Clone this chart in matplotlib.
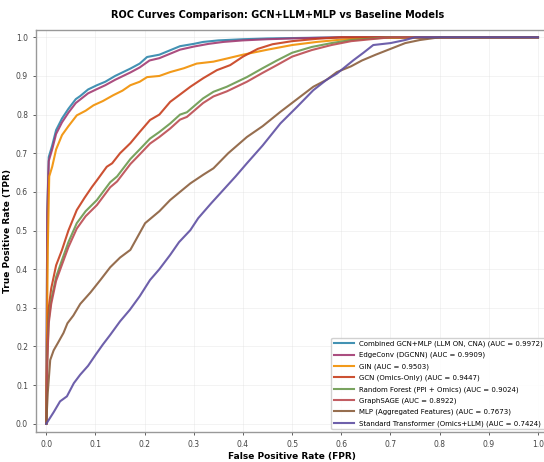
import matplotlib
matplotlib.use('Agg')
import matplotlib.pyplot as plt

# ROC points per model (FPR, TPR)
combined_fpr = [0, 0.002, 0.005, 0.012, 0.02, 0.032, 0.045, 0.06, 0.069, 0.085, 0.103, 0.12, 0.14, 0.171, 0.19, 0.205, 0.23, 0.272, 0.3, 0.319, 0.35, 0.4, 0.45, 0.5, 0.6, 1.0]
combined_tpr = [0, 0.55, 0.69, 0.72, 0.76, 0.79, 0.815, 0.84, 0.848, 0.865, 0.876, 0.885, 0.9, 0.919, 0.932, 0.949, 0.955, 0.977, 0.983, 0.988, 0.992, 0.995, 0.997, 0.998, 1.0, 1.0]

edgeconv_fpr = [0, 0.002, 0.005, 0.012, 0.02, 0.032, 0.045, 0.06, 0.07, 0.085, 0.103, 0.12, 0.14, 0.171, 0.19, 0.21, 0.23, 0.272, 0.3, 0.33, 0.36, 0.4, 0.45, 0.5, 0.6, 1.0]
edgeconv_tpr = [0, 0.54, 0.68, 0.71, 0.75, 0.78, 0.805, 0.83, 0.84, 0.855, 0.866, 0.876, 0.89, 0.909, 0.922, 0.94, 0.946, 0.968, 0.976, 0.983, 0.988, 0.992, 0.995, 0.997, 1.0, 1.0]

gin_fpr = [0, 0.003, 0.006, 0.012, 0.02, 0.032, 0.045, 0.062, 0.08, 0.096, 0.115, 0.136, 0.155, 0.171, 0.19, 0.205, 0.23, 0.252, 0.28, 0.306, 0.34, 0.367, 0.4, 0.45, 0.5, 0.55, 0.6, 0.65, 1.0]
gin_tpr = [0, 0.45, 0.64, 0.665, 0.71, 0.747, 0.77, 0.798, 0.81, 0.824, 0.835, 0.85, 0.862, 0.876, 0.885, 0.897, 0.9, 0.91, 0.92, 0.932, 0.937, 0.945, 0.955, 0.968, 0.98, 0.988, 0.994, 0.998, 1.0]

gcn_fpr = [0, 0.002, 0.005, 0.01, 0.02, 0.032, 0.045, 0.062, 0.078, 0.093, 0.103, 0.123, 0.134, 0.15, 0.171, 0.19, 0.211, 0.23, 0.252, 0.27, 0.293, 0.319, 0.347, 0.374, 0.4, 0.43, 0.46, 0.5, 0.55, 0.6, 1.0]
gcn_tpr = [0, 0.2, 0.3, 0.35, 0.41, 0.45, 0.5, 0.553, 0.585, 0.613, 0.63, 0.665, 0.674, 0.7, 0.726, 0.755, 0.786, 0.8, 0.833, 0.85, 0.872, 0.894, 0.915, 0.928, 0.95, 0.97, 0.982, 0.99, 0.996, 1.0, 1.0]

rf_fpr = [0, 0.002, 0.005, 0.01, 0.02, 0.032, 0.045, 0.062, 0.08, 0.103, 0.13, 0.144, 0.171, 0.19, 0.211, 0.23, 0.252, 0.272, 0.286, 0.319, 0.34, 0.367, 0.408, 0.44, 0.469, 0.5, 0.54, 0.58, 0.62, 0.7, 1.0]
rf_tpr = [0, 0.17, 0.27, 0.32, 0.38, 0.424, 0.47, 0.519, 0.55, 0.579, 0.625, 0.64, 0.685, 0.71, 0.738, 0.755, 0.777, 0.8, 0.806, 0.842, 0.859, 0.872, 0.897, 0.92, 0.94, 0.96, 0.975, 0.985, 0.993, 1.0, 1.0]

sage_fpr = [0, 0.002, 0.005, 0.01, 0.02, 0.032, 0.045, 0.062, 0.08, 0.103, 0.13, 0.144, 0.171, 0.19, 0.211, 0.23, 0.252, 0.272, 0.286, 0.319, 0.34, 0.367, 0.408, 0.44, 0.469, 0.5, 0.54, 0.58, 0.62, 0.7, 1.0]
sage_tpr = [0, 0.16, 0.26, 0.31, 0.37, 0.412, 0.457, 0.505, 0.537, 0.566, 0.612, 0.627, 0.672, 0.697, 0.725, 0.742, 0.764, 0.787, 0.794, 0.83, 0.847, 0.86, 0.885, 0.908, 0.928, 0.95, 0.967, 0.98, 0.99, 1.0, 1.0]

mlp_fpr = [0, 0.003, 0.008, 0.015, 0.024, 0.035, 0.043, 0.055, 0.069, 0.09, 0.11, 0.13, 0.15, 0.171, 0.201, 0.23, 0.252, 0.272, 0.293, 0.32, 0.34, 0.37, 0.408, 0.44, 0.476, 0.51, 0.543, 0.57, 0.591, 0.62, 0.642, 0.67, 0.7, 0.73, 0.76, 0.8, 1.0]
mlp_tpr = [0, 0.08, 0.165, 0.19, 0.21, 0.235, 0.26, 0.28, 0.31, 0.34, 0.372, 0.405, 0.43, 0.45, 0.519, 0.55, 0.579, 0.6, 0.622, 0.645, 0.661, 0.7, 0.742, 0.77, 0.807, 0.84, 0.872, 0.89, 0.91, 0.925, 0.94, 0.955, 0.97, 0.985, 0.993, 1.0, 1.0]

transformer_fpr = [0, 0.005, 0.015, 0.028, 0.042, 0.056, 0.069, 0.085, 0.1, 0.115, 0.13, 0.15, 0.17, 0.19, 0.211, 0.23, 0.252, 0.27, 0.293, 0.309, 0.335, 0.36, 0.385, 0.408, 0.44, 0.476, 0.51, 0.543, 0.57, 0.591, 0.624, 0.645, 0.665, 0.7, 0.73, 0.75, 1.0]
transformer_tpr = [0, 0.01, 0.03, 0.058, 0.071, 0.105, 0.127, 0.15, 0.178, 0.205, 0.23, 0.265, 0.295, 0.33, 0.372, 0.4, 0.437, 0.47, 0.501, 0.532, 0.57, 0.605, 0.64, 0.674, 0.72, 0.777, 0.82, 0.863, 0.89, 0.906, 0.94, 0.96, 0.98, 0.985, 0.993, 1.0, 1.0]

labels = [
    'Combined GCN+MLP (LLM ON, CNA) (AUC = 0.9972)',
    'EdgeConv (DGCNN) (AUC = 0.9909)',
    'GIN (AUC = 0.9503)',
    'GCN (Omics-Only) (AUC = 0.9447)',
    'Random Forest (PPI + Omics) (AUC = 0.9024)',
    'GraphSAGE (AUC = 0.8922)',
    'MLP (Aggregated Features) (AUC = 0.7673)',
    'Standard Transformer (Omics+LLM) (AUC = 0.7424)',
]
colors = ['#2E86AB', '#A23B72', '#F18F01', '#C73E1D', '#6A994E', '#BC4B51', '#8B5E3C', '#5E4FA2']
curves = [
    (combined_fpr, combined_tpr),
    (edgeconv_fpr, edgeconv_tpr),
    (gin_fpr, gin_tpr),
    (gcn_fpr, gcn_tpr),
    (rf_fpr, rf_tpr),
    (sage_fpr, sage_tpr),
    (mlp_fpr, mlp_tpr),
    (transformer_fpr, transformer_tpr),
]

fig = plt.figure(figsize=(5.44, 4.62), dpi=100)
ax = fig.add_axes([0.067, 0.066, 0.94, 0.87])

for (fpr, tpr), color, label in zip(curves, colors, labels):
    ax.plot(fpr, tpr, color=color, lw=1.5, alpha=0.9, label=label)

ax.set_xlim(-0.02, 1.02)
ax.set_ylim(-0.02, 1.02)
ax.set_xticks([i / 10 for i in range(11)])
ax.set_yticks([i / 10 for i in range(11)])
ax.tick_params(labelsize=5.5, colors='#444444', length=2.5, width=0.6)
ax.grid(True, color='#dddddd', alpha=0.5, lw=0.5)
for spine in ax.spines.values():
    spine.set_color('#999999')
    spine.set_linewidth(1.0)

ax.set_xlabel('False Positive Rate (FPR)', fontsize=6.5, fontweight='bold', labelpad=2)
ax.set_ylabel('True Positive Rate (TPR)', fontsize=6.5, fontweight='bold', labelpad=3)
fig.suptitle('ROC Curves Comparison: GCN+LLM+MLP vs Baseline Models', fontsize=7.0,
             fontweight='bold', x=0.51, y=0.978)

ax.legend(loc='lower right', fontsize=5.0, framealpha=0.9, handlelength=2.8,
          borderaxespad=0.3, labelspacing=0.7, edgecolor='#cccccc')

plt.savefig('out.png', dpi=100)
